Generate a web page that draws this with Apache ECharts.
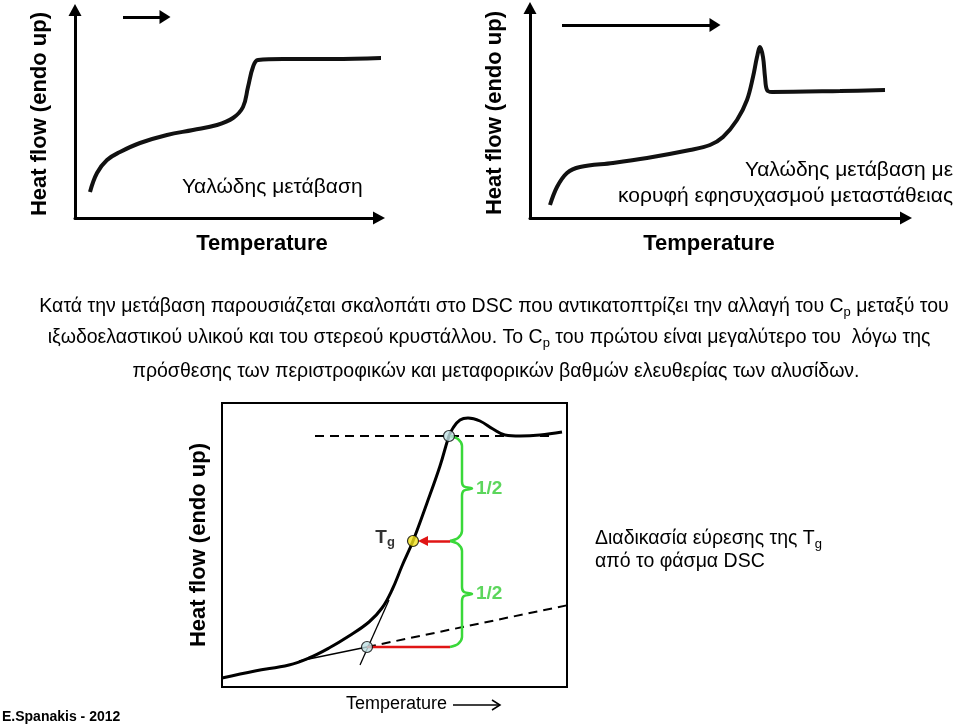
<!DOCTYPE html>
<html><head><meta charset="utf-8">
<script src="https://cdn.jsdelivr.net/npm/echarts@6/dist/echarts.min.js"></script>
<style>html,body{margin:0;padding:0;background:#fff}#c{width:959px;height:727px}</style>
</head><body><div id="c"></div>
<script>
// ---------- Panel A (top left): glass transition ----------
const tempA = [15, 22, 32, 45, 65, 92, 118, 142, 158, 168, 173, 178, 183, 208, 258, 307];
const heatA = [26, 45, 58, 66, 75, 83, 88, 93, 100, 111, 131, 151, 158, 159, 159, 160];
const arrowA = [[48, 201], [90, 201]];

// ---------- Panel B (top right): glass transition with relaxation peak ----------
const tempB = [20, 27, 37, 50, 83, 117, 160, 180, 193, 207, 217, 223, 227, 230, 233, 235, 237, 242, 310, 355];
const heatB = [13, 31, 45, 51, 55, 60, 68, 73, 81, 98, 118, 141, 161, 171, 161, 141, 128, 126, 127, 128];
const arrowB = [[32, 193], [185, 193]];

// ---------- Panel C (bottom): Tg determination ----------
const tempC = [0, 33, 67, 87, 107, 127, 147, 160, 170, 180, 191, 205, 218, 227, 231, 238, 246, 258, 271, 283, 298, 318, 340];
const heatC = [9, 16, 22, 29, 39, 51, 65, 79, 97, 121, 146, 184, 221, 251, 259, 267, 269, 266, 258, 252, 251, 252, 255];
const baseSolidT = [77, 145], baseSolidH = [26, 40];
const baseDashT = [145, 356], baseDashH = [40, 84];
const tangentT = [138, 167], tangentH = [22, 87];
const upperT = [93, 331], upperH = [251, 251];
const onsetPt = [145, 40], endPt = [227, 251], tgPt = [191, 146];
const bracketX = 228;
const bracketLevels = [251, 146, 40];
const redLineT = [145, 228], redLineH = [40, 40];
const halfLabel = '1/2';

const FONT = '"Liberation Sans", Arial, Helvetica, sans-serif';
const NARROW = '"Liberation Sans Narrow", "Arial Narrow", "Liberation Sans", sans-serif';
const zip = (xs, ys) => xs.map((x, i) => [x, ys[i]]);
function brace(x, yTop, yBot) {
  const ym = (yTop + yBot) / 2;
  return [[x, yTop], [x + 8, yTop - 3], [x + 12, yTop - 10], [x + 12, ym + 7], [x + 14, ym + 2], [x + 22, ym],
          [x + 14, ym - 2], [x + 12, ym - 7], [x + 12, yBot + 10], [x + 8, yBot + 3], [x, yBot]];
}

const chart = echarts.init(document.getElementById('c'));

function axisX(gi, max, name, extra) {
  return Object.assign({
    gridIndex: gi, type: 'value', min: 0, max: max,
    axisLine: { show: true, onZero: false, lineStyle: { color: '#000', width: 3 }, symbol: ['none', 'triangle'], symbolSize: [13, 12] },
    axisTick: { show: false }, axisLabel: { show: false }, splitLine: { show: false },
    name: name, nameLocation: 'middle', nameGap: 15,
    nameTextStyle: { fontFamily: FONT, fontSize: 22, fontWeight: 'bold', color: '#000' }
  }, extra || {});
}
function axisY(gi, max, extra) {
  return Object.assign({
    gridIndex: gi, type: 'value', min: 0, max: max,
    axisLine: { show: true, onZero: false, lineStyle: { color: '#000', width: 3 }, symbol: ['none', 'triangle'], symbolSize: [13, 12] },
    axisTick: { show: false }, axisLabel: { show: false }, splitLine: { show: false },
    name: 'Heat flow (endo up)', nameLocation: 'middle', nameGap: 24, nameRotate: 90,
    nameTextStyle: { fontFamily: FONT, fontSize: 22, fontWeight: 'bold', color: '#000' }
  }, extra || {});
}

const lineBase = { type: 'line', showSymbol: false, silent: true, animation: false };
const arrowMark = (pts, color, w, size) => ({
  silent: true, animation: false, symbol: ['none', 'triangle'], symbolSize: size,
  lineStyle: { type: 'solid', width: w, color: color }, label: { show: false }, emphasis: { disabled: true },
  data: [[{ coord: pts[0] }, { coord: pts[1] }]]
});
const subRich = { s: { fontFamily: FONT, fontSize: 13, verticalAlign: 'bottom', lineHeight: 11 } };
const subRichN = { s: { fontFamily: NARROW, fontSize: 13, verticalAlign: 'bottom', lineHeight: 11 } };

const option = {
  animation: false,
  grid: [
    { left: 75, top: 10, width: 304, height: 208 },
    { left: 530, top: 8, width: 376, height: 210 },
    { left: 222, top: 403, width: 345, height: 284, show: true, borderColor: '#000', borderWidth: 2 }
  ],
  xAxis: [
    axisX(0, 304, 'Temperature', { nameTextStyle: { fontFamily: FONT, fontSize: 22, fontWeight: 'bold', color: '#000', padding: [0, 0, 0, 70] } }),
    axisX(1, 376, 'Temperature', { nameTextStyle: { fontFamily: FONT, fontSize: 22, fontWeight: 'bold', color: '#000', padding: [0, 18, 0, 0] } }),
    axisX(2, 345, 'Temperature', { axisLine: { show: false }, nameGap: 8,
      nameTextStyle: { fontFamily: FONT, fontSize: 18, color: '#000', padding: [0, 0, 0, 4] } })
  ],
  yAxis: [
    axisY(0, 208),
    axisY(1, 210, { nameGap: 24 }),
    axisY(2, 284, { axisLine: { show: false }, nameGap: 12 })
  ],
  series: [
    Object.assign({}, lineBase, { xAxisIndex: 0, yAxisIndex: 0, data: zip(tempA, heatA), smooth: 0.4,
      lineStyle: { color: '#111', width: 4 }, markLine: arrowMark(arrowA, '#000', 3, [14, 11]) }),
    Object.assign({}, lineBase, { xAxisIndex: 1, yAxisIndex: 1, data: zip(tempB, heatB), smooth: 0.35,
      lineStyle: { color: '#111', width: 4 }, markLine: arrowMark(arrowB, '#000', 3, [14, 11]) }),
    // panel C
    Object.assign({}, lineBase, { xAxisIndex: 2, yAxisIndex: 2, data: zip(tempC, heatC), smooth: 0.4,
      lineStyle: { color: '#000', width: 3 } }),
    Object.assign({}, lineBase, { xAxisIndex: 2, yAxisIndex: 2, data: zip(baseSolidT, baseSolidH),
      lineStyle: { color: '#000', width: 1.3 } }),
    Object.assign({}, lineBase, { xAxisIndex: 2, yAxisIndex: 2, data: zip(baseDashT, baseDashH), clip: false,
      lineStyle: { color: '#000', width: 2, type: [9, 6] } }),
    Object.assign({}, lineBase, { xAxisIndex: 2, yAxisIndex: 2, data: zip(tangentT, tangentH),
      lineStyle: { color: '#000', width: 1.3 } }),
    Object.assign({}, lineBase, { xAxisIndex: 2, yAxisIndex: 2, data: zip(upperT, upperH),
      lineStyle: { color: '#000', width: 2, type: [9, 6] } }),
    Object.assign({}, lineBase, { xAxisIndex: 2, yAxisIndex: 2, data: zip(redLineT, redLineH),
      lineStyle: { color: '#e01515', width: 2.5 },
      markLine: arrowMark([[bracketX, tgPt[1]], [tgPt[0] + 10, tgPt[1]]], '#e01515', 2.5, [10, 10]) }),
    Object.assign({}, lineBase, { xAxisIndex: 2, yAxisIndex: 2, data: brace(bracketX, bracketLevels[0], bracketLevels[1]), smooth: 0.3,
      lineStyle: { color: '#3ad83a', width: 2.5 } }),
    Object.assign({}, lineBase, { xAxisIndex: 2, yAxisIndex: 2, data: brace(bracketX, bracketLevels[1], bracketLevels[2]), smooth: 0.3,
      lineStyle: { color: '#3ad83a', width: 2.5 } }),
    { type: 'scatter', xAxisIndex: 2, yAxisIndex: 2, silent: true, z: 5, symbolSize: 11,
      itemStyle: { color: '#bfe0e4', borderColor: '#000', borderWidth: 1.2 }, data: [onsetPt, endPt] },
    { type: 'scatter', xAxisIndex: 2, yAxisIndex: 2, silent: true, z: 5, symbolSize: 11,
      itemStyle: { color: '#f2e21c', borderColor: '#000', borderWidth: 1.2 }, data: [tgPt],
      label: { show: true, position: 'left', distance: 12, offset: [0, -3], formatter: '{t|T}{s|g}',
        rich: { t: { fontFamily: FONT, fontSize: 19, fontWeight: 'bold', color: '#000', lineHeight: 22 },
                s: { fontFamily: FONT, fontSize: 13, fontWeight: 'bold', color: '#000', verticalAlign: 'bottom', lineHeight: 10 } } } },
    { type: 'scatter', xAxisIndex: 2, yAxisIndex: 2, silent: true, symbolSize: 0,
      data: [[bracketX + 22, (bracketLevels[0] + bracketLevels[1]) / 2], [bracketX + 22, (bracketLevels[1] + bracketLevels[2]) / 2]],
      label: { show: true, position: 'right', distance: 4, formatter: halfLabel,
        fontFamily: FONT, fontSize: 19, fontWeight: 'bold', color: '#33cc33' } }
  ],
  graphic: [
    { type: 'text', x: 182, y: 187, silent: true, style: { text: 'Υαλώδης μετάβαση', fontFamily: FONT, fontSize: 21, fill: '#000', verticalAlign: 'middle' } },
    { type: 'text', x: 953, y: 170, silent: true, style: { text: 'Υαλώδης μετάβαση με', fontFamily: FONT, fontSize: 21, fill: '#000', align: 'right', verticalAlign: 'middle' } },
    { type: 'text', x: 953, y: 196, silent: true, style: { text: 'κορυφή εφησυχασμού μεταστάθειας', fontFamily: FONT, fontSize: 21, fill: '#000', align: 'right', verticalAlign: 'middle' } },
    { type: 'text', x: 494, y: 307, silent: true, style: { text: 'Κατά την μετάβαση παρουσιάζεται σκαλοπάτι στο DSC που αντικατοπτρίζει την αλλαγή του C{s|p} μεταξύ του',
      fontFamily: NARROW, fontSize: 19.5, lineHeight: 24, fill: '#000', align: 'center', verticalAlign: 'middle', rich: subRichN } },
    { type: 'text', x: 489, y: 338, silent: true, style: { text: 'ιξωδοελαστικού υλικού και του στερεού κρυστάλλου. Το C{s|p} του πρώτου είναι μεγαλύτερο του  λόγω της',
      fontFamily: NARROW, fontSize: 19.5, lineHeight: 24, fill: '#000', align: 'center', verticalAlign: 'middle', rich: subRichN } },
    { type: 'text', x: 496, y: 372, silent: true, style: { text: 'πρόσθεσης των περιστροφικών και μεταφορικών βαθμών ελευθερίας των αλυσίδων.',
      fontFamily: NARROW, fontSize: 19.5, fill: '#000', align: 'center', verticalAlign: 'middle' } },
    { type: 'text', x: 595, y: 539, silent: true, style: { text: 'Διαδικασία εύρεσης της T{s|g}',
      fontFamily: FONT, fontSize: 19.5, lineHeight: 24, fill: '#000', verticalAlign: 'middle', rich: subRich } },
    { type: 'text', x: 595, y: 562, silent: true, style: { text: 'από το φάσμα DSC', fontFamily: FONT, fontSize: 19.5, fill: '#000', verticalAlign: 'middle' } },
    { type: 'text', x: 2, y: 717, silent: true, style: { text: 'E.Spanakis - 2012', fontFamily: FONT, fontSize: 14, fontWeight: 'bold', fill: '#000', verticalAlign: 'middle' } },
    { type: 'polyline', silent: true, shape: { points: [[453, 705], [500, 705]] }, style: { stroke: '#000', lineWidth: 1.5 } },
    { type: 'polyline', silent: true, shape: { points: [[492, 700], [500, 705], [492, 710]] }, style: { stroke: '#000', lineWidth: 1.5, fill: null } }
  ]
};
chart.setOption(option);
</script></body></html>
